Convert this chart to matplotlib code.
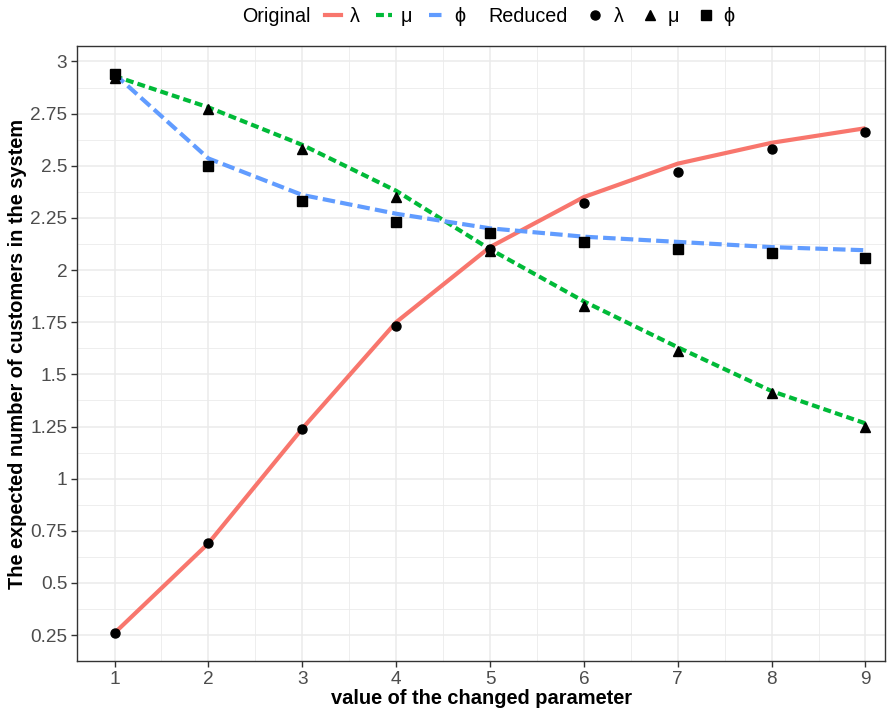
import numpy as np
import matplotlib.pyplot as plt
from matplotlib.lines import Line2D
from matplotlib.ticker import MultipleLocator, FuncFormatter

plt.rcParams['font.family'] = ['Liberation Sans', 'DejaVu Sans']

x = np.arange(1, 10)

# original model (lines)
orig_lambda = [0.26, 0.69, 1.24, 1.75, 2.11, 2.35, 2.51, 2.61, 2.68]
orig_mu = [2.93, 2.78, 2.60, 2.38, 2.10, 1.85, 1.63, 1.42, 1.265]
orig_phi = [2.94, 2.535, 2.36, 2.27, 2.20, 2.16, 2.135, 2.11, 2.095]

# reduced model (points)
red_lambda = [0.26, 0.69, 1.24, 1.73, 2.10, 2.32, 2.47, 2.58, 2.66]
red_mu = [2.92, 2.77, 2.58, 2.35, 2.09, 1.83, 1.61, 1.41, 1.25]
red_phi = [2.94, 2.50, 2.33, 2.23, 2.18, 2.135, 2.10, 2.08, 2.06]

greek = ['λ', 'μ', 'ϕ']

c_red = '#F8766D'
c_green = '#00BA38'
c_blue = '#619CFF'
lw = 3.0
dash_mu = (1.9, 1.0)
dash_phi = (3.0, 1.25)

fig = plt.figure(figsize=(8.95, 7.11), dpi=100)
ax = fig.add_axes([0.086, 0.0703, 0.903, 0.865])

ax.plot(x, orig_lambda, color=c_red, lw=lw, solid_capstyle='butt')
ax.plot(x, orig_mu, color=c_green, lw=lw, dashes=dash_mu)
ax.plot(x, orig_phi, color=c_blue, lw=lw, dashes=dash_phi)

ax.plot(x, red_lambda, 'o', color='black', ms=6.5, zorder=5)
ax.plot(x, red_mu, '^', color='black', ms=7.5, zorder=5)
ax.plot(x, red_phi, 's', color='black', ms=6.5, zorder=5)

ax.set_xlim(0.6, 9.21)
ax.set_ylim(0.126, 3.074)
ax.xaxis.set_major_locator(MultipleLocator(1))
ax.xaxis.set_minor_locator(MultipleLocator(0.5))
ax.yaxis.set_major_locator(MultipleLocator(0.25))
ax.yaxis.set_minor_locator(MultipleLocator(0.125))
ax.yaxis.set_major_formatter(FuncFormatter(lambda v, p: f'{v:g}'))

ax.grid(True, which='major', color='#EBEBEB', lw=1.1)
ax.grid(True, which='minor', color='#EBEBEB', lw=0.6)
ax.set_axisbelow(True)
for s in ax.spines.values():
    s.set_color('#333333')
    s.set_linewidth(1.0)
ax.tick_params(which='major', length=4, color='#333333', labelsize=13.7,
               labelcolor='#4D4D4D', width=1, pad=3)
ax.tick_params(which='minor', length=0)

ax.set_xlabel('value of the changed parameter', fontsize=14.4,
              fontweight='bold', labelpad=1)
ax.set_ylabel('The expected number of customers in the system', fontsize=14.4,
              fontweight='bold', labelpad=2)

# legend at the top
ly = 1 - 16 / 711
fig.text(242 / 895, ly, 'Original', fontsize=14.2, va='center', ha='left')
fig.text(488 / 895, ly, 'Reduced', fontsize=14.2, va='center', ha='left')

h_orig = [Line2D([], [], color=c_red, lw=lw),
          Line2D([], [], color=c_green, lw=lw, dashes=dash_mu),
          Line2D([], [], color=c_blue, lw=lw, dashes=dash_phi)]
fig.legend(h_orig, greek, ncol=3, frameon=False, fontsize=14.2,
           loc='center left', bbox_to_anchor=(325 / 895, ly),
           handlelength=0.8, handletextpad=0.45, columnspacing=0.85,
           borderpad=0, borderaxespad=0)

h_red = [Line2D([], [], ls='', marker='o', color='black', ms=6.5),
         Line2D([], [], ls='', marker='^', color='black', ms=7.5),
         Line2D([], [], ls='', marker='s', color='black', ms=6.5)]
fig.legend(h_red, greek, ncol=3, frameon=False, fontsize=14.2,
           loc='center left', bbox_to_anchor=(587 / 895, ly),
           handlelength=0.85, handletextpad=0.5, columnspacing=0.9,
           borderpad=0, borderaxespad=0)

fig.savefig('out.png', dpi=100)
